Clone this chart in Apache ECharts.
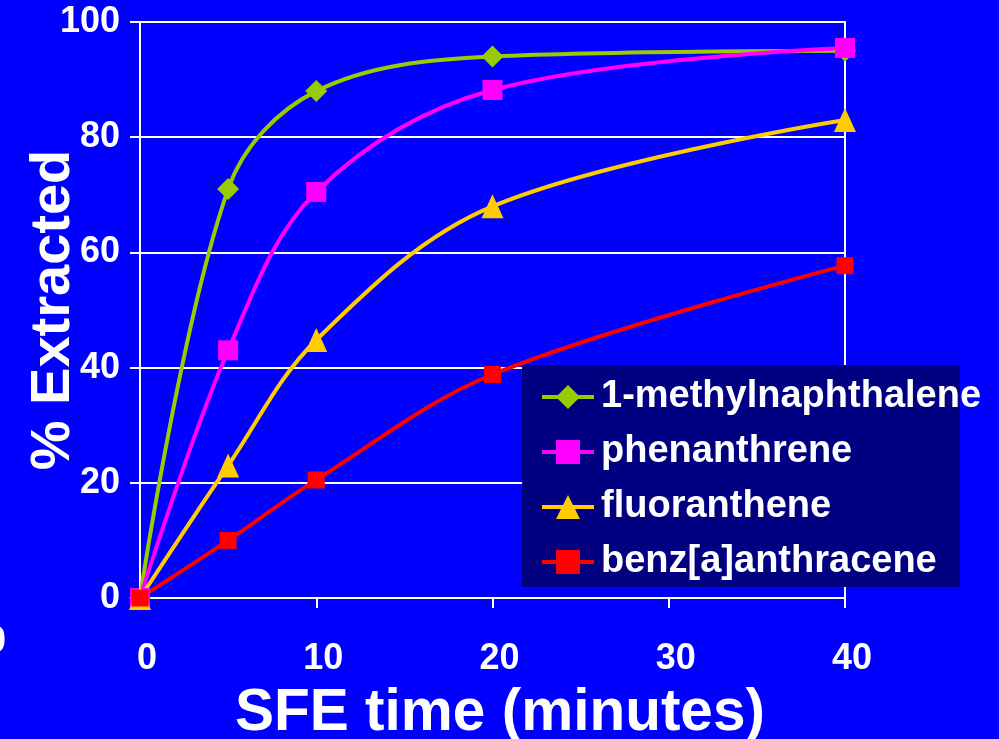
<!DOCTYPE html>
<html>
<head>
<meta charset="utf-8">
<script src="https://cdn.jsdelivr.net/npm/echarts@6/dist/echarts.min.js"></script>
<style>
html,body{margin:0;padding:0;background:#0000FF;}
#chart{width:999px;height:739px;}
</style>
</head>
<body>
<div id="chart"></div>
<script>
const times = [0, 5, 10, 20, 40];
const methylnaphthalene = [0, 71, 88, 94, 95];
const phenanthrene = [0, 43, 70.5, 88.2, 95.5];
const fluoranthene = [0, 23, 44.8, 68, 83];
const benzAnthracene = [0, 10, 20.5, 38.8, 57.7];
const xTicks = [0, 10, 20, 30, 40];
const yTicks = [0, 20, 40, 60, 80, 100];

const FONT = '"Liberation Sans", Arial, sans-serif';
function pairs(vals){ return times.map((t,i)=>[t, vals[i]]); }
function mk(name, vals, color, symbol, size){
  return {
    name: name, type: 'line', data: pairs(vals), smooth: 0.35,
    symbol: symbol, symbolSize: size, showAllSymbol: true,
    lineStyle: {color: color, width: 4},
    itemStyle: {color: color},
    emphasis: {disabled: true}, z: 20
  };
}

const chart = echarts.init(document.getElementById('chart'));
chart.setOption({
  backgroundColor: '#0000FF',
  animation: false,
  grid: {left: 140, right: 154, top: 22, bottom: 141, containLabel: false, outerBoundsMode: 'none',
    show: true, borderColor: '#FFFFFF', borderWidth: 2, backgroundColor: 'transparent'},
  xAxis: {
    type: 'value', min: 0, max: 40, interval: 10,
    name: 'SFE time (minutes)', nameLocation: 'middle', nameGap: 86, nameMoveOverlap: false,
    nameTextStyle: {color: '#FFFFFF', fontFamily: FONT, fontWeight: 'bold', fontSize: 58.5, padding: [0,0,0,15]},
    axisLine: {show: true, lineStyle: {color: '#FFFFFF', width: 2}},
    axisTick: {show: true, length: 10, lineStyle: {color: '#FFFFFF', width: 2}},
    axisLabel: {color: '#FFFFFF', fontFamily: FONT, fontWeight: 'bold', fontSize: 36, margin: 43, padding: [0,0,0,14],
      formatter: v => xTicks.includes(v) ? String(v) : ''},
    splitLine: {show: false}
  },
  yAxis: {
    type: 'value', min: 0, max: 100, interval: 20,
    name: '% Extracted', nameLocation: 'middle', nameGap: 58, nameRotate: 90, nameMoveOverlap: false,
    nameTextStyle: {color: '#FFFFFF', fontFamily: FONT, fontWeight: 'bold', fontSize: 56},
    axisLine: {show: true, lineStyle: {color: '#FFFFFF', width: 2}},
    axisTick: {show: true, length: 10, lineStyle: {color: '#FFFFFF', width: 2}},
    axisLabel: {color: '#FFFFFF', fontFamily: FONT, fontWeight: 'bold', fontSize: 36, margin: 20,
      formatter: v => yTicks.includes(v) ? String(v) : ''},
    splitLine: {show: true, lineStyle: {color: '#FFFFFF', width: 2}}
  },
  legend: {
    orient: 'vertical', left: 522, top: 365, padding: [13, 10, 10, 18],
    itemWidth: 52, itemHeight: 30, itemGap: 17,
    textStyle: {color: '#FFFFFF', fontFamily: FONT, fontWeight: 'bold', fontSize: 38, lineHeight: 38, padding: [0,0,0,2]},
    lineStyle: {width: 4},
    itemStyle: {borderWidth: 0},
    selectedMode: false, z: 40
  },
  graphic: [
    {type: 'rect', shape: {x: 522, y: 365, width: 438, height: 222}, style: {fill: '#000080'}, z: 30, silent: true},
    {type: 'text', left: -14, top: 624, style: {text: '0', fill: '#FFFFFF', font: 'bold 36px ' + FONT}, z: 30, silent: true}
  ],
  series: [
    mk('1-methylnaphthalene', methylnaphthalene, '#99CC00', 'diamond', 22),
    mk('phenanthrene', phenanthrene, '#FF00FF', 'rect', 20),
    mk('fluoranthene', fluoranthene, '#FFCC00', 'triangle', [22, 24]),
    mk('benz[a]anthracene', benzAnthracene, '#FF0000', 'rect', 17)
  ]
});
</script>
</body>
</html>
